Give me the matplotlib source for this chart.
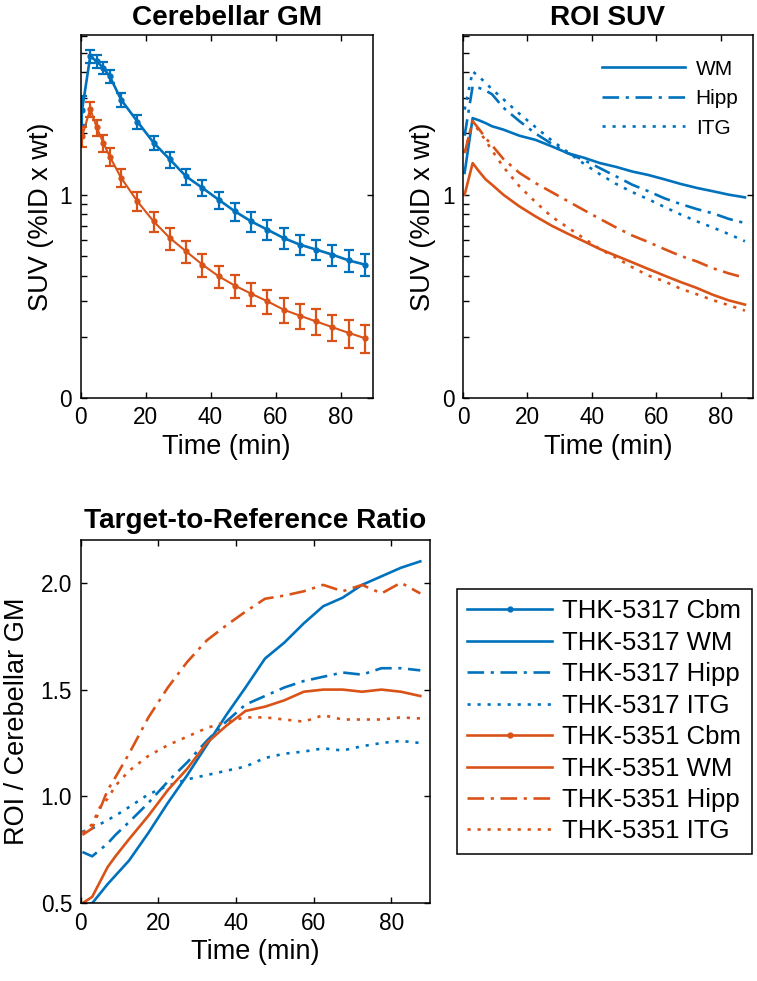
import matplotlib
matplotlib.use("Agg")
import matplotlib.pyplot as plt
from matplotlib.lines import Line2D
from matplotlib.ticker import FixedLocator, NullFormatter

plt.rcParams['font.family'] = ['Liberation Sans', 'DejaVu Sans']

# ---------------- data ----------------
time_min = [0.5, 3, 5, 7, 9, 12.5, 17.5, 22.5, 27.5, 32.5, 37.5, 42.5,
            47.5, 52.5, 57.5, 62.5, 67.5, 72.5, 77.5, 82.5, 87.5]

# Cerebellar GM SUV (mean, sd)
cbm_5317 = [2.62, 4.79, 4.53, 4.20, 3.82, 2.93, 2.29, 1.80, 1.49, 1.23, 1.08, 0.945,
            0.828, 0.739, 0.673, 0.612, 0.568, 0.537, 0.507, 0.475, 0.453]
cbm_5317_sd = [0.42, 0.35, 0.33, 0.30, 0.28, 0.22, 0.18, 0.15, 0.13, 0.11, 0.10, 0.09,
               0.085, 0.08, 0.075, 0.07, 0.065, 0.062, 0.06, 0.057, 0.055]
cbm_5351 = [1.94, 2.64, 2.14, 1.80, 1.54, 1.21, 0.927, 0.739, 0.612, 0.526, 0.453, 0.397,
            0.357, 0.326, 0.299, 0.272, 0.254, 0.238, 0.223, 0.209, 0.197]
cbm_5351_sd = [0.22, 0.22, 0.19, 0.17, 0.15, 0.12, 0.10, 0.085, 0.075, 0.065, 0.058, 0.05,
               0.046, 0.043, 0.04, 0.038, 0.036, 0.035, 0.033, 0.032, 0.031]

# ROI SUV
wm_5317 = [1.28, 2.38, 2.32, 2.25, 2.17, 2.09, 1.95, 1.86, 1.73, 1.60, 1.52, 1.43,
           1.37, 1.30, 1.25, 1.19, 1.13, 1.08, 1.04, 1.00, 0.97]
hipp_5317 = [1.95, 3.42, 3.35, 3.25, 3.12, 2.68, 2.30, 2.00, 1.78, 1.60, 1.48, 1.35,
             1.23, 1.12, 1.04, 0.96, 0.90, 0.85, 0.81, 0.76, 0.725]
itg_5317 = [2.62, 4.04, 3.80, 3.55, 3.30, 2.95, 2.50, 2.15, 1.85, 1.62, 1.42, 1.26,
            1.13, 1.03, 0.95, 0.87, 0.80, 0.74, 0.69, 0.64, 0.59]
wm_5351 = [1.00, 1.43, 1.30, 1.19, 1.12, 1.00, 0.876, 0.782, 0.704, 0.643, 0.590, 0.540,
           0.501, 0.465, 0.431, 0.400, 0.372, 0.348, 0.322, 0.302, 0.288]
hipp_5351 = [1.60, 2.30, 2.10, 1.90, 1.75, 1.50, 1.28, 1.14, 1.03, 0.93, 0.84, 0.76,
             0.69, 0.63, 0.585, 0.54, 0.50, 0.47, 0.435, 0.41, 0.39]
itg_5351 = [1.61, 2.30, 2.05, 1.85, 1.65, 1.37, 1.10, 0.92, 0.78, 0.69, 0.61, 0.54,
            0.49, 0.44, 0.40, 0.375, 0.345, 0.324, 0.303, 0.286, 0.269]

# Target-to-reference ratios
r_wm_5317 = [0.49, 0.50, 0.545, 0.59, 0.63, 0.70, 0.83, 0.97, 1.10, 1.24, 1.38, 1.51,
             1.645, 1.72, 1.81, 1.89, 1.93, 1.99, 2.03, 2.07, 2.10]
r_hipp_5317 = [0.74, 0.72, 0.75, 0.78, 0.82, 0.88, 0.97, 1.07, 1.16, 1.26, 1.35, 1.43,
               1.47, 1.51, 1.54, 1.56, 1.58, 1.57, 1.60, 1.60, 1.59]
r_itg_5317 = [0.835, 0.85, 0.87, 0.89, 0.91, 0.95, 1.01, 1.05, 1.08, 1.10, 1.12, 1.14,
              1.18, 1.20, 1.21, 1.225, 1.215, 1.235, 1.25, 1.26, 1.25]
r_wm_5351 = [0.50, 0.53, 0.60, 0.67, 0.72, 0.80, 0.91, 1.03, 1.13, 1.25, 1.33, 1.40,
             1.42, 1.45, 1.49, 1.50, 1.50, 1.49, 1.50, 1.49, 1.47]
r_hipp_5351 = [0.82, 0.85, 0.94, 1.03, 1.09, 1.20, 1.37, 1.51, 1.63, 1.73, 1.80, 1.865,
               1.925, 1.94, 1.96, 1.99, 1.96, 1.99, 1.95, 2.00, 1.95]
r_itg_5351 = [0.83, 0.87, 0.95, 0.99, 1.05, 1.12, 1.19, 1.24, 1.28, 1.32, 1.35, 1.37,
              1.37, 1.36, 1.35, 1.38, 1.36, 1.36, 1.36, 1.37, 1.365]

legend_labels = ['THK-5317 Cbm', 'THK-5317 WM', 'THK-5317 Hipp', 'THK-5317 ITG',
                 'THK-5351 Cbm', 'THK-5351 WM', 'THK-5351 Hipp', 'THK-5351 ITG']
roi_labels = ['WM', 'Hipp', 'ITG']

# ---------------- style ----------------
BLUE = '#0072BD'
ORANGE = '#D95319'
LW = 1.9
DASHDOT = (0, (6.3, 2.5, 1.2, 2.5))
DOT = (0, (1.2, 2.6))
TICK_FS = 16.3
LABEL_FS = 19.5
TITLE_FS = 20.2

W, H = 757, 981
fig = plt.figure(figsize=(W / 100, H / 100), dpi=100)


def axpos(l, t, r, b):
    return [l / W, 1 - b / H, (r - l) / W, (b - t) / H]


def style_axes(ax):
    for s in ax.spines.values():
        s.set_linewidth(1.1)
    ax.tick_params(which='both', direction='in', top=True, right=True,
                   labelsize=TICK_FS, width=1.0, length=4.5, pad=6)
    ax.set_xlim(0, 90)
    ax.set_xticks([0, 20, 40, 60, 80])
    ax.set_xlabel('Time (min)', fontsize=LABEL_FS, labelpad=3)


def log_axes(ax):
    ax.set_yscale('log')
    ax.set_ylim(0.1, 6.1)
    ax.yaxis.set_major_locator(FixedLocator([0.1, 1]))
    ax.set_yticklabels(['0', '1'])
    ax.yaxis.set_minor_locator(FixedLocator([0.2, 0.3, 0.4, 0.5, 0.6, 0.7, 0.8, 0.9,
                                             2, 3, 4, 5, 6]))
    ax.yaxis.set_minor_formatter(NullFormatter())
    ax.tick_params(which='minor', right=False, length=4.5)


# ---- Cerebellar GM ----
ax1 = fig.add_axes(axpos(80.5, 35, 373, 398))
ax1.errorbar(time_min, cbm_5317, yerr=cbm_5317_sd, color=BLUE, lw=LW, marker='.',
             ms=7, capsize=3.5, elinewidth=1.6, capthick=1.6)
ax1.errorbar(time_min, cbm_5351, yerr=cbm_5351_sd, color=ORANGE, lw=1.5, marker='.',
             ms=7, capsize=3.5, elinewidth=1.6, capthick=1.6)
style_axes(ax1)
log_axes(ax1)
ax1.set_ylabel('SUV (%ID x wt)', fontsize=LABEL_FS, labelpad=4)
ax1.set_title('Cerebellar GM', fontsize=TITLE_FS, fontweight='bold', pad=7)

# ---- ROI SUV ----
ax2 = fig.add_axes(axpos(463, 35, 753, 398))
ax2.plot(time_min, wm_5317, color=BLUE, lw=LW, ls='-')
ax2.plot(time_min, hipp_5317, color=BLUE, lw=LW, ls=DASHDOT)
ax2.plot(time_min, itg_5317, color=BLUE, lw=LW, ls=DOT)
ax2.plot(time_min, wm_5351, color=ORANGE, lw=LW, ls='-')
ax2.plot(time_min, hipp_5351, color=ORANGE, lw=LW, ls=DASHDOT)
ax2.plot(time_min, itg_5351, color=ORANGE, lw=LW, ls=DOT)
style_axes(ax2)
log_axes(ax2)
ax2.set_ylabel('SUV (%ID x wt)', fontsize=LABEL_FS, labelpad=4)
ax2.set_title('ROI SUV', fontsize=TITLE_FS, fontweight='bold', pad=7)
roi_handles = [Line2D([], [], color=BLUE, lw=LW, ls=s) for s in ['-', DASHDOT, DOT]]
ax2.legend(roi_handles, roi_labels, loc='upper right', frameon=False,
           fontsize=15, handlelength=4.0, handletextpad=0.5,
           labelspacing=0.5, borderaxespad=0.3, bbox_to_anchor=(1.0, 0.972))

# ---- Ratio ----
ax3 = fig.add_axes(axpos(80.5, 540, 430, 903.3))
ax3.plot(time_min, r_wm_5317, color=BLUE, lw=LW, ls='-')
ax3.plot(time_min, r_hipp_5317, color=BLUE, lw=LW, ls=DASHDOT)
ax3.plot(time_min, r_itg_5317, color=BLUE, lw=LW, ls=DOT)
ax3.plot(time_min, r_wm_5351, color=ORANGE, lw=LW, ls='-')
ax3.plot(time_min, r_hipp_5351, color=ORANGE, lw=LW, ls=DASHDOT)
ax3.plot(time_min, r_itg_5351, color=ORANGE, lw=LW, ls=DOT)
style_axes(ax3)
ax3.set_ylim(0.5, 2.2)
ax3.set_yticks([0.5, 1.0, 1.5, 2.0])
ax3.set_yticklabels(['0.5', '1.0', '1.5', '2.0'])
ax3.set_ylabel('ROI / Cerebellar GM', fontsize=LABEL_FS, labelpad=8)
ax3.set_title('Target-to-Reference Ratio', fontsize=TITLE_FS, fontweight='bold', pad=9)

# ---- big legend ----
styles = ['-', '-', DASHDOT, DOT]
handles = []
for col in (BLUE, ORANGE):
    for i, s in enumerate(styles):
        if i == 0:
            handles.append(Line2D([], [], color=col, lw=LW, ls='-', marker='.', ms=7))
        else:
            handles.append(Line2D([], [], color=col, lw=LW, ls=s))
leg = fig.legend(handles, legend_labels, loc='upper left',
                 bbox_to_anchor=(457 / W, 1 - 589 / H), fontsize=18.5,
                 handlelength=3.3, handletextpad=0.4, labelspacing=0.29,
                 borderpad=0.4, borderaxespad=0, fancybox=False, edgecolor='black',
                 framealpha=1)
leg.get_frame().set_linewidth(1.1)

fig.savefig('out.png', dpi=100)
